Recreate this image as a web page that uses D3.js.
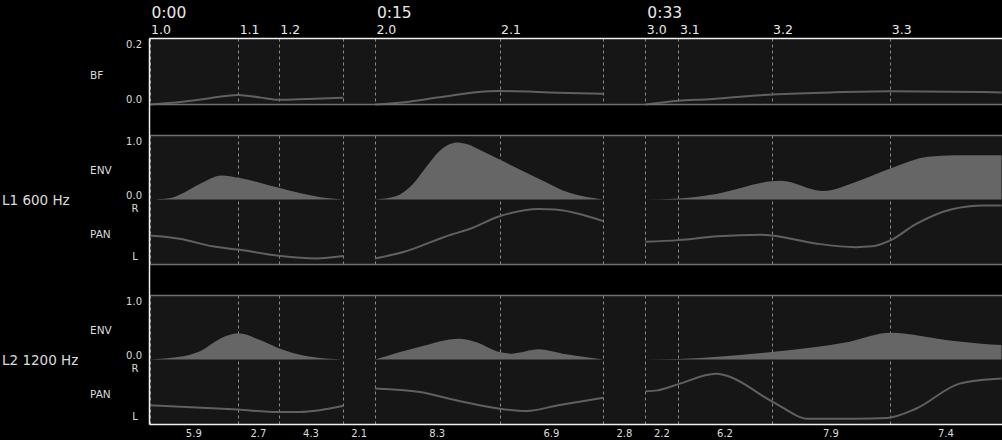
<!DOCTYPE html>
<html><head><meta charset="utf-8">
<script src="https://cdn.jsdelivr.net/npm/d3@7/dist/d3.min.js"></script>
<style>
html,body{margin:0;padding:0;background:#000;overflow:hidden;}
svg{display:block;font-family:"DejaVu Sans",sans-serif;}
</style></head><body>
<svg id="c" width="1002" height="440"></svg>
<script>
// ---------- data ----------
const durations = [5.9, 2.7, 4.3, 2.1, 8.3, 6.9, 2.8, 2.2, 6.2, 7.9, 7.4];
const markerLabels = ["1.0","1.1","1.2","","2.0","2.1","","3.0","3.1","3.2","3.3",""];
const timeLabels = [[0,"0:00"],[4,"0:15"],[7,"0:33"]];
const layerNames = ["L1 600 Hz","L2 1200 Hz"];
const bfTicks = [0, 0.2];
const envTicks = [0, 1.0];

const bf = [[0,0],[1.5,0.006],[3.4,0.018],[5.9,0.035],[7.4,0.025],[8.6,0.017],[10.5,0.02],[12.9,0.025], null,
  [15,0],[17,0.008],[19.3,0.026],[22.5,0.048],[23.3,0.049],[27.2,0.043],[30.2,0.039], null,
  [33,0],[35.2,0.014],[37.2,0.019],[40.4,0.033],[41.4,0.036],[45.4,0.044],[49.3,0.048],[56.7,0.044]];

const env1 = [[0,0],[1.4,0.03],[2.0,0.09],[3.4,0.30],[4.8,0.45],[5.9,0.41],[7.4,0.31],[8.6,0.22],[10,0.12],[11.4,0.04],[12.9,0], null,
  [15,0],[16.4,0.06],[17.5,0.28],[18.5,0.64],[19.3,0.91],[20,1.04],[20.5,1.07],[21.2,1.03],[22,0.93],[23.3,0.75],[25.9,0.39],[28,0.12],[30.2,0], null,
  [33,0],[35.2,0.02],[37.8,0.11],[41.4,0.34],[42,0.35],[44.8,0.16],[47,0.33],[49.3,0.58],[51.8,0.80],[53.6,0.83],[56.7,0.83]];

const pan1 = [[0,-0.13],[2,-0.25],[4.2,-0.53],[5.9,-0.65],[8.6,-0.88],[11.1,-0.98],[12.9,-0.89], null,
  [15,-0.98],[16.9,-0.74],[20.1,-0.09],[21.2,0.09],[23.3,0.58],[25.9,0.85],[27,0.83],[30.2,0.40], null,
  [33,-0.36],[35.2,-0.30],[37.8,-0.16],[40.7,-0.10],[41.4,-0.13],[44.4,-0.43],[47,-0.56],[48.1,-0.53],[49.3,-0.31],[51,0.29],[53.4,0.84],[55.5,0.98],[56.7,0.98]];

const env2 = [[0,0],[2,0.05],[3.4,0.16],[4.7,0.39],[5.9,0.49],[7.4,0.36],[8.6,0.21],[10.5,0.06],[12.9,0], null,
  [15,0],[18,0.24],[20.6,0.39],[21.7,0.33],[23.3,0.14],[24.1,0.11],[25.9,0.19],[27.5,0.11],[30.2,0], null,
  [33,0],[35.2,0.01],[41.4,0.14],[46.5,0.33],[49.3,0.50],[53.4,0.35],[56,0.28],[56.7,0.27]];

const pan2 = [[0,-0.49],[5.9,-0.65],[8.6,-0.74],[10,-0.74],[12.9,-0.51], null,
  [15,0.13],[18,0],[20.6,-0.33],[23.3,-0.62],[25.1,-0.70],[27.2,-0.49],[30.2,-0.21], null,
  [33,0.03],[33.8,0.06],[35.2,0.29],[37.7,0.67],[38.3,0.62],[41.5,-0.37],[43.9,-0.99],[47,-0.99],[49.1,-0.96],[51,-0.62],[53.9,0.31],[54.4,0.37],[56.7,0.50]];

// ---------- layout ----------
const svg = d3.select("#c");
const X0 = 149.5, X1 = 1001.5;
const markerTimes = [0];
durations.forEach((d,i)=>markerTimes.push(+(markerTimes[i]+d).toFixed(2)));
const total = markerTimes[markerTimes.length-1];
const x = d3.scaleLinear().domain([0,total]).range([X0,X1]);

const BG = "#161616", FILL = "#666", LINE = "#606060", GRID = "#8a8a8a";
const TXT = "#dcdcdc";

const bfTop = 38.5, bfBot = 104.5;
const panels = [
  {top:135.5, mid:199.5, bot:264.5, env:env1, pan:pan1, name:layerNames[0]},
  {top:295.5, mid:359.5, bot:424.5, env:env2, pan:pan2, name:layerNames[1]}
];

// backgrounds
svg.append("rect").attr("x",X0).attr("y",bfTop).attr("width",1002-X0).attr("height",bfBot-bfTop).attr("fill",BG);
panels.forEach(p=>svg.append("rect").attr("x",X0).attr("y",p.top).attr("width",1002-X0).attr("height",p.bot-p.top).attr("fill",BG));

// dotted marker lines
function grid(y0,y1){
  svg.append("g").selectAll("line").data(markerTimes).join("line")
    .attr("x1",d=>Math.round(x(d))+0.5).attr("x2",d=>Math.round(x(d))+0.5)
    .attr("y1",y0).attr("y2",y1)
    .attr("stroke",GRID).attr("stroke-width",1).attr("stroke-dasharray","3,3");
}
grid(bfTop,bfBot);
panels.forEach(p=>grid(p.top,p.bot));

// BF
const yBF = d3.scaleLinear().domain([0,0.24]).range([bfBot,bfTop]);
const lineBF = d3.line().defined(d=>d).x(d=>x(d[0])).y(d=>yBF(d[1])).curve(d3.curveMonotoneX);
svg.append("path").attr("d",lineBF(bf)).attr("fill","none").attr("stroke",LINE).attr("stroke-width",2);

// panels
panels.forEach(p=>{
  const yE = d3.scaleLinear().domain([0,1.2]).range([p.mid,p.top]);
  const yP = d3.scaleLinear().domain([-1.2,1.2]).range([p.bot,p.mid]);
  const area = d3.area().defined(d=>d).x(d=>x(d[0])).y0(yE(0)).y1(d=>yE(d[1])).curve(d3.curveMonotoneX);
  svg.append("path").attr("d",area(p.env)).attr("fill",FILL);
  const ln = d3.line().defined(d=>d).x(d=>x(d[0])).y(d=>yP(d[1])).curve(d3.curveMonotoneX);
  svg.append("path").attr("d",ln(p.pan)).attr("fill","none").attr("stroke",LINE).attr("stroke-width",2);
  // labels
  svg.append("g").selectAll("text").data(envTicks).join("text")
    .attr("x",142).attr("y",d=>yE(d)-4.5).attr("text-anchor","end").attr("dominant-baseline","central")
    .attr("font-size",10).attr("fill",TXT).text(d=>d.toFixed(1));
  svg.append("text").attr("x",135).attr("y",yP(1)+4).attr("text-anchor","middle").attr("dominant-baseline","central")
    .attr("font-size",10).attr("fill",TXT).text("R");
  svg.append("text").attr("x",135).attr("y",yP(-1)-2.5).attr("text-anchor","middle").attr("dominant-baseline","central")
    .attr("font-size",10).attr("fill",TXT).text("L");
  svg.append("text").attr("x",90).attr("y",(p.top+p.mid)/2+2.5).attr("dominant-baseline","central")
    .attr("font-size",10.5).attr("fill",TXT).text("ENV");
  svg.append("text").attr("x",90).attr("y",(p.mid+p.bot)/2+2).attr("dominant-baseline","central")
    .attr("font-size",10.5).attr("fill",TXT).text("PAN");
  svg.append("text").attr("x",2).attr("y",p.mid+0.5).attr("dominant-baseline","central")
    .attr("font-size",13.5).attr("fill",TXT).text(p.name);
});

// BF labels
svg.append("g").selectAll("text").data(bfTicks).join("text")
  .attr("x",142).attr("y",d=>yBF(d)-5).attr("text-anchor","end").attr("dominant-baseline","central")
  .attr("font-size",10).attr("fill",TXT).text(d=>d.toFixed(1));
svg.append("text").attr("x",90).attr("y",75).attr("dominant-baseline","central")
  .attr("font-size",10.5).attr("fill",TXT).text("BF");

// frame lines
const hl = (y,c)=>svg.append("line").attr("x1",X0).attr("x2",1002).attr("y1",y).attr("y2",y).attr("stroke",c).attr("stroke-width",1.3);
hl(bfTop,"#f0f0f0");
hl(bfBot,"#6e6e6e");
hl(panels[0].top,"#6e6e6e");
hl(panels[0].bot,"#6e6e6e");
hl(panels[1].top,"#6e6e6e");
hl(panels[1].bot,"#f0f0f0");
svg.append("line").attr("x1",X0).attr("x2",X0).attr("y1",bfTop).attr("y2",panels[1].bot).attr("stroke","#f0f0f0").attr("stroke-width",1.5);

// top labels
svg.append("g").selectAll("text").data(markerTimes.map((t,i)=>[t,markerLabels[i]]).filter(d=>d[1])).join("text")
  .attr("x",d=>x(d[0])+1.5).attr("y",34).attr("font-size",12.5).attr("fill","#e8e8e8").text(d=>d[1]);
svg.append("g").selectAll("text").data(timeLabels).join("text")
  .attr("x",d=>x(markerTimes[d[0]])+2).attr("y",18).attr("font-size",15.5).attr("fill","#e8e8e8").text(d=>d[1]);

// bottom duration labels
svg.append("g").selectAll("text").data(durations).join("text")
  .attr("x",(d,i)=>(x(markerTimes[i])+x(markerTimes[i+1]))/2).attr("y",433.5)
  .attr("text-anchor","middle").attr("dominant-baseline","central")
  .attr("font-size",10).attr("fill",TXT).text(d=>d.toFixed(1));
</script>
</body></html>
